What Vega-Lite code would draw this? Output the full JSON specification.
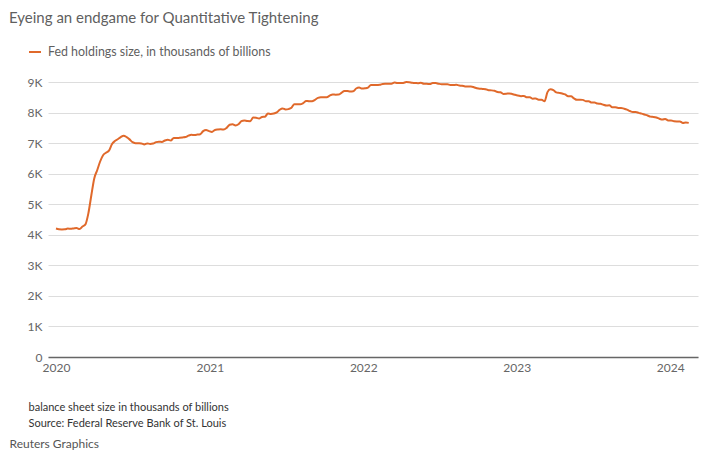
{
  "$schema": "https://vega.github.io/schema/vega-lite/v6.json",
  "autosize": "none",
  "width": 650,
  "height": 275,
  "padding": {"left": 48, "top": 82, "right": 30, "bottom": 110},
  "background": "white",
  "title": {
    "text": "Eyeing an endgame for Quantitative Tightening",
    "anchor": "start",
    "frame": "group",
    "dx": -39,
    "offset": 40,
    "dy": 21,
    "fontSize": 15,
    "fontWeight": "normal",
    "color": "#5f5f5f",
    "font": "Lato"
  },
  "config": {
    "view": {"stroke": null},
    "font": "Lato"
  },
  "data": {
    "values": [
      {"date": "2020-01-01", "value": 4204}, {"date": "2020-01-08", "value": 4181}, {"date": "2020-01-15", "value": 4176}, {"date": "2020-01-22", "value": 4178}, {"date": "2020-01-29", "value": 4202},
      {"date": "2020-02-05", "value": 4198}, {"date": "2020-02-12", "value": 4209}, {"date": "2020-02-19", "value": 4218}, {"date": "2020-02-26", "value": 4189},
      {"date": "2020-03-04", "value": 4271}, {"date": "2020-03-11", "value": 4342}, {"date": "2020-03-18", "value": 4702}, {"date": "2020-03-25", "value": 5285},
      {"date": "2020-04-01", "value": 5845}, {"date": "2020-04-08", "value": 6113}, {"date": "2020-04-15", "value": 6398}, {"date": "2020-04-22", "value": 6604}, {"date": "2020-04-29", "value": 6686},
      {"date": "2020-05-06", "value": 6751}, {"date": "2020-05-13", "value": 6964}, {"date": "2020-05-20", "value": 7067}, {"date": "2020-05-27", "value": 7127},
      {"date": "2020-06-03", "value": 7196}, {"date": "2020-06-10", "value": 7242}, {"date": "2020-06-17", "value": 7196}, {"date": "2020-06-24", "value": 7122},
      {"date": "2020-07-01", "value": 7031}, {"date": "2020-07-08", "value": 6998}, {"date": "2020-07-15", "value": 6994}, {"date": "2020-07-22", "value": 6989}, {"date": "2020-07-29", "value": 6958},
      {"date": "2020-08-05", "value": 6991}, {"date": "2020-08-12", "value": 6975}, {"date": "2020-08-19", "value": 6989}, {"date": "2020-08-26", "value": 7033},
      {"date": "2020-09-02", "value": 7047}, {"date": "2020-09-09", "value": 7038}, {"date": "2020-09-16", "value": 7085}, {"date": "2020-09-23", "value": 7109}, {"date": "2020-09-30", "value": 7087},
      {"date": "2020-10-07", "value": 7166}, {"date": "2020-10-14", "value": 7164}, {"date": "2020-10-21", "value": 7175}, {"date": "2020-10-28", "value": 7186},
      {"date": "2020-11-04", "value": 7197}, {"date": "2020-11-11", "value": 7243}, {"date": "2020-11-18", "value": 7270}, {"date": "2020-11-25", "value": 7269},
      {"date": "2020-12-02", "value": 7278}, {"date": "2020-12-09", "value": 7292}, {"date": "2020-12-16", "value": 7392}, {"date": "2020-12-23", "value": 7427}, {"date": "2020-12-30", "value": 7392},
      {"date": "2021-01-06", "value": 7367}, {"date": "2021-01-13", "value": 7432}, {"date": "2021-01-20", "value": 7444}, {"date": "2021-01-27", "value": 7450},
      {"date": "2021-02-03", "value": 7443}, {"date": "2021-02-10", "value": 7498}, {"date": "2021-02-17", "value": 7601}, {"date": "2021-02-24", "value": 7616},
      {"date": "2021-03-03", "value": 7579}, {"date": "2021-03-10", "value": 7617}, {"date": "2021-03-17", "value": 7719}, {"date": "2021-03-24", "value": 7741}, {"date": "2021-03-31", "value": 7723},
      {"date": "2021-04-07", "value": 7718}, {"date": "2021-04-14", "value": 7837}, {"date": "2021-04-21", "value": 7829}, {"date": "2021-04-28", "value": 7807},
      {"date": "2021-05-05", "value": 7856}, {"date": "2021-05-12", "value": 7863}, {"date": "2021-05-19", "value": 7969}, {"date": "2021-05-26", "value": 7954},
      {"date": "2021-06-02", "value": 7966}, {"date": "2021-06-09", "value": 8003}, {"date": "2021-06-16", "value": 8091}, {"date": "2021-06-23", "value": 8136}, {"date": "2021-06-30", "value": 8099},
      {"date": "2021-07-07", "value": 8112}, {"date": "2021-07-14", "value": 8155}, {"date": "2021-07-21", "value": 8275}, {"date": "2021-07-28", "value": 8271},
      {"date": "2021-08-04", "value": 8270}, {"date": "2021-08-11", "value": 8310}, {"date": "2021-08-18", "value": 8380}, {"date": "2021-08-25", "value": 8370},
      {"date": "2021-09-01", "value": 8370}, {"date": "2021-09-08", "value": 8419}, {"date": "2021-09-15", "value": 8478}, {"date": "2021-09-22", "value": 8500}, {"date": "2021-09-29", "value": 8499},
      {"date": "2021-10-06", "value": 8502}, {"date": "2021-10-13", "value": 8552}, {"date": "2021-10-20", "value": 8593}, {"date": "2021-10-27", "value": 8586},
      {"date": "2021-11-03", "value": 8587}, {"date": "2021-11-10", "value": 8643}, {"date": "2021-11-17", "value": 8709}, {"date": "2021-11-24", "value": 8707},
      {"date": "2021-12-01", "value": 8692}, {"date": "2021-12-08", "value": 8699}, {"date": "2021-12-15", "value": 8787}, {"date": "2021-12-22", "value": 8818}, {"date": "2021-12-29", "value": 8787},
      {"date": "2022-01-05", "value": 8796}, {"date": "2022-01-12", "value": 8818}, {"date": "2022-01-19", "value": 8898}, {"date": "2022-01-26", "value": 8898},
      {"date": "2022-02-02", "value": 8903}, {"date": "2022-02-09", "value": 8906}, {"date": "2022-02-16", "value": 8936}, {"date": "2022-02-23", "value": 8941},
      {"date": "2022-03-02", "value": 8943}, {"date": "2022-03-09", "value": 8945}, {"date": "2022-03-16", "value": 8981}, {"date": "2022-03-23", "value": 8967}, {"date": "2022-03-30", "value": 8967},
      {"date": "2022-04-06", "value": 8970}, {"date": "2022-04-13", "value": 8996}, {"date": "2022-04-20", "value": 8995}, {"date": "2022-04-27", "value": 8972},
      {"date": "2022-05-04", "value": 8969}, {"date": "2022-05-11", "value": 8963}, {"date": "2022-05-18", "value": 8975}, {"date": "2022-05-25", "value": 8944},
      {"date": "2022-06-01", "value": 8944}, {"date": "2022-06-08", "value": 8932}, {"date": "2022-06-15", "value": 8968}, {"date": "2022-06-22", "value": 8965}, {"date": "2022-06-29", "value": 8945},
      {"date": "2022-07-06", "value": 8928}, {"date": "2022-07-13", "value": 8925}, {"date": "2022-07-20", "value": 8925}, {"date": "2022-07-27", "value": 8900},
      {"date": "2022-08-03", "value": 8903}, {"date": "2022-08-10", "value": 8909}, {"date": "2022-08-17", "value": 8885}, {"date": "2022-08-24", "value": 8877}, {"date": "2022-08-31", "value": 8856},
      {"date": "2022-09-07", "value": 8853}, {"date": "2022-09-14", "value": 8852}, {"date": "2022-09-21", "value": 8829}, {"date": "2022-09-28", "value": 8795},
      {"date": "2022-10-05", "value": 8778}, {"date": "2022-10-12", "value": 8774}, {"date": "2022-10-19", "value": 8764}, {"date": "2022-10-26", "value": 8730},
      {"date": "2022-11-02", "value": 8726}, {"date": "2022-11-09", "value": 8711}, {"date": "2022-11-16", "value": 8673}, {"date": "2022-11-23", "value": 8664}, {"date": "2022-11-30", "value": 8611},
      {"date": "2022-12-07", "value": 8615}, {"date": "2022-12-14", "value": 8626}, {"date": "2022-12-21", "value": 8607}, {"date": "2022-12-28", "value": 8581},
      {"date": "2023-01-04", "value": 8560}, {"date": "2023-01-11", "value": 8536}, {"date": "2023-01-18", "value": 8544}, {"date": "2023-01-25", "value": 8500},
      {"date": "2023-02-01", "value": 8502}, {"date": "2023-02-08", "value": 8455}, {"date": "2023-02-15", "value": 8458}, {"date": "2023-02-22", "value": 8418},
      {"date": "2023-03-01", "value": 8417}, {"date": "2023-03-08", "value": 8369}, {"date": "2023-03-15", "value": 8669}, {"date": "2023-03-22", "value": 8763}, {"date": "2023-03-29", "value": 8736},
      {"date": "2023-04-05", "value": 8662}, {"date": "2023-04-12", "value": 8644}, {"date": "2023-04-19", "value": 8623}, {"date": "2023-04-26", "value": 8593},
      {"date": "2023-05-03", "value": 8533}, {"date": "2023-05-10", "value": 8533}, {"date": "2023-05-17", "value": 8466}, {"date": "2023-05-24", "value": 8416}, {"date": "2023-05-31", "value": 8420},
      {"date": "2023-06-07", "value": 8415}, {"date": "2023-06-14", "value": 8372}, {"date": "2023-06-21", "value": 8374}, {"date": "2023-06-28", "value": 8327},
      {"date": "2023-07-05", "value": 8328}, {"date": "2023-07-12", "value": 8293}, {"date": "2023-07-19", "value": 8286}, {"date": "2023-07-26", "value": 8256},
      {"date": "2023-08-02", "value": 8232}, {"date": "2023-08-09", "value": 8236}, {"date": "2023-08-16", "value": 8176}, {"date": "2023-08-23", "value": 8175}, {"date": "2023-08-30", "value": 8152},
      {"date": "2023-09-06", "value": 8151}, {"date": "2023-09-13", "value": 8128}, {"date": "2023-09-20", "value": 8098}, {"date": "2023-09-27", "value": 8052},
      {"date": "2023-10-04", "value": 8019}, {"date": "2023-10-11", "value": 8018}, {"date": "2023-10-18", "value": 7989}, {"date": "2023-10-25", "value": 7965},
      {"date": "2023-11-01", "value": 7934}, {"date": "2023-11-08", "value": 7903}, {"date": "2023-11-15", "value": 7867}, {"date": "2023-11-22", "value": 7856}, {"date": "2023-11-29", "value": 7836},
      {"date": "2023-12-06", "value": 7798}, {"date": "2023-12-13", "value": 7770}, {"date": "2023-12-20", "value": 7793}, {"date": "2023-12-27", "value": 7743},
      {"date": "2024-01-03", "value": 7743}, {"date": "2024-01-10", "value": 7716}, {"date": "2024-01-17", "value": 7709}, {"date": "2024-01-24", "value": 7707}, {"date": "2024-01-31", "value": 7662},
      {"date": "2024-02-07", "value": 7672}, {"date": "2024-02-14", "value": 7662}
    ],
    "format": {"parse": {"date": "utc:'%Y-%m-%d'"}}
  },
  "mark": {"type": "line", "strokeWidth": 2, "clip": false, "interpolate": "monotone"},
  "encoding": {
    "x": {
      "field": "date",
      "type": "temporal",
      "scale": {
        "type": "utc",
        "domain": [
          {"year": 2019, "month": 12, "date": 13, "utc": true},
          {"year": 2024, "month": 3, "date": 7, "utc": true}
        ]
      },
      "axis": {
        "tickCount": "year",
        "format": "%Y",
        "grid": false,
        "ticks": false,
        "domain": true,
        "domainColor": "#666666",
        "domainWidth": 1.5,
        "labelPadding": 5,
        "labelFontSize": 12,
        "labelColor": "#666666",
        "labelFont": "Lato",
        "labelFlush": false,
        "title": ["balance sheet size in thousands of billions", "Source: Federal Reserve Bank of St. Louis"],
        "titleAnchor": "start",
        "titleAlign": "left",
        "titleBaseline": "alphabetic",
        "titleX": -20,
        "titleY": 53,
        "titleLineHeight": 16,
        "titleFontSize": 11,
        "titleFontWeight": "normal",
        "titleColor": "#333333",
        "titleFont": "Lato"
      }
    },
    "y": {
      "field": "value",
      "type": "quantitative",
      "scale": {"domain": [0, 9000], "nice": false, "zero": true},
      "axis": {
        "values": [0, 1000, 2000, 3000, 4000, 5000, 6000, 7000, 8000, 9000],
        "labelExpr": "datum.value == 0 ? '0' : (datum.value / 1000) + 'K'",
        "grid": true,
        "gridColor": "#dddddd",
        "gridWidth": 1,
        "domain": false,
        "ticks": false,
        "labelPadding": 6,
        "labelFontSize": 12,
        "labelColor": "#666666",
        "labelFont": "Lato",
        "title": "Reuters Graphics",
        "titleAngle": 0,
        "titleAnchor": "start",
        "titleAlign": "left",
        "titleBaseline": "alphabetic",
        "titleX": -39,
        "titleY": 365,
        "titleFontSize": 12,
        "titleFontWeight": "normal",
        "titleColor": "#555555",
        "titleFont": "Lato"
      }
    },
    "color": {
      "datum": "Fed holdings size, in thousands of billions",
      "type": "nominal",
      "scale": {"range": ["#e0692b"]},
      "legend": {
        "title": null,
        "orient": "none",
        "legendX": -20,
        "legendY": -37,
        "symbolType": "stroke",
        "symbolSize": 144,
        "symbolStrokeWidth": 2,
        "labelFontSize": 12.4,
        "labelColor": "#5f5f5f",
        "labelFont": "Lato",
        "labelOffset": 6,
        "labelLimit": 500
      }
    }
  }
}
